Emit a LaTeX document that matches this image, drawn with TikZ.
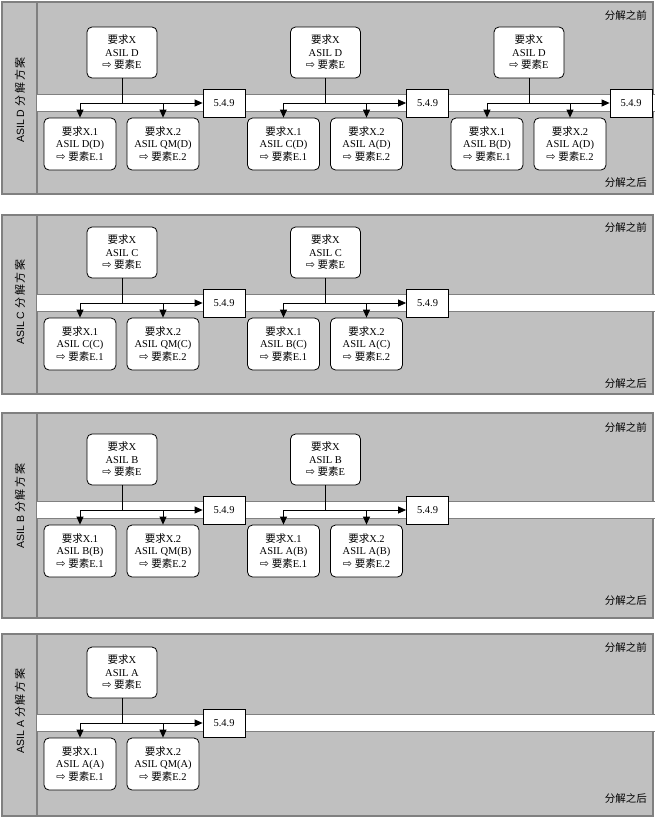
\documentclass[tikz,border=0pt]{standalone}
\usepackage{fontspec}
\usepackage{tikz}
\usetikzlibrary{arrows.meta}
\setmainfont{Liberation Serif}
\newfontfamily\zhfont{Noto Sans CJK SC}
\newfontfamily\arrfont{DejaVu Sans}
\newfontfamily\labfont{Liberation Sans}
\definecolor{panelgray}{HTML}{C0C0C0}
\definecolor{edgegray}{HTML}{808080}
\newcommand{\zh}[1]{{\zhfont\fontsize{10.5}{12.5}\selectfont #1}}
\newcommand{\ar}{{\arrfont\fontsize{11}{12.5}\selectfont ⇨}}
% one decomposition: name, x, line y, parent ASIL, child ASILs
\newcommand{\grp}[6]{%
  \node[req] (#1) at (#2,#3-50.5) {\zh{要求}X\\ASIL #4\\\ar\ \zh{要素}E};
  \node[box] (#1b) at (#2+102,#3) {5.4.9};
  \node[req, child] (#1x) at (#2-42,#3+41) {\zh{要求}X.1\\ASIL #5\\\ar\ \zh{要素}E.1};
  \node[req, child] (#1y) at (#2+41,#3+41) {\zh{要求}X.2\\ASIL #6\\\ar\ \zh{要素}E.2};
  \coordinate (#1s) at (#1.south |- #1b.west);
  \draw[conn] (#1.south) -- (#1s);
  \draw[arr] (#1s) -| (#1x.north);
  \draw[arr] (#1s) -| (#1y.north);
  \draw[arr] (#1x.north |- #1b.west) -- (#1b.west);
}
\begin{document}
\begin{tikzpicture}[x=1pt, y=-1pt,
  panel/.style={draw=edgegray, fill=panelgray, line width=1.5pt},
  req/.style={draw, fill=white, rounded corners=5pt, line width=0.8pt, minimum width=70pt, minimum height=51pt, align=center, inner sep=1pt, font=\fontsize{10.5}{12.5}\selectfont},
  child/.style={minimum width=72pt, minimum height=52pt},
  box/.style={draw, fill=white, line width=0.8pt, minimum width=42pt, minimum height=28pt, font=\fontsize{10.5}{12.5}\selectfont},
  conn/.style={line width=0.8pt},
  arr/.style={conn, -{Triangle[length=8pt,width=7pt]}},
  tag/.style={anchor=east, inner sep=0pt, font=\zhfont\fontsize{10.5}{12}\selectfont}]
\useasboundingbox (0,0) rectangle (654,819);
\foreach \t/\m/\b/\s/\ly/\ya/\yb in {2/103/194/D/100/15/182, 215/303/394/C/302/227/383, 413/510/618/B/506/427/600, 634/723/816/A/711/647/798}{
  \draw[panel] (2,\t) rectangle (653,\b);
  \draw[panel] (2,\t) rectangle (37,\b);
  \fill[white] (37,\m-8.5) rectangle (656,\m+8.5);
  \draw[edgegray, line width=1.5pt] (37,\m-8.5) -- (656,\m-8.5) (37,\m+8.5) -- (656,\m+8.5);
  \node[tag] (pre\s) at (647,\ya) {分解之前};
  \node[tag] (post\s) at (647,\yb) {分解之后};
  \node[rotate=90, font=\labfont\fontsize{10.5}{12}\selectfont] (lab\s) at (20,\ly) {ASIL \s\ {\zhfont\fontsize{11}{12}\selectfont 分\,解\,方\,案}};
}
\grp{da}{122}{103}{D}{D(D)}{QM(D)}
\grp{db}{325.5}{103}{D}{C(D)}{A(D)}
\grp{dc}{529}{103}{D}{B(D)}{A(D)}
\grp{ca}{122}{303}{C}{C(C)}{QM(C)}
\grp{cb}{325.5}{303}{C}{B(C)}{A(C)}
\grp{ba}{122}{510}{B}{B(B)}{QM(B)}
\grp{bb}{325.5}{510}{B}{A(B)}{A(B)}
\grp{aa}{122}{723}{A}{A(A)}{QM(A)}
\end{tikzpicture}
\end{document}
